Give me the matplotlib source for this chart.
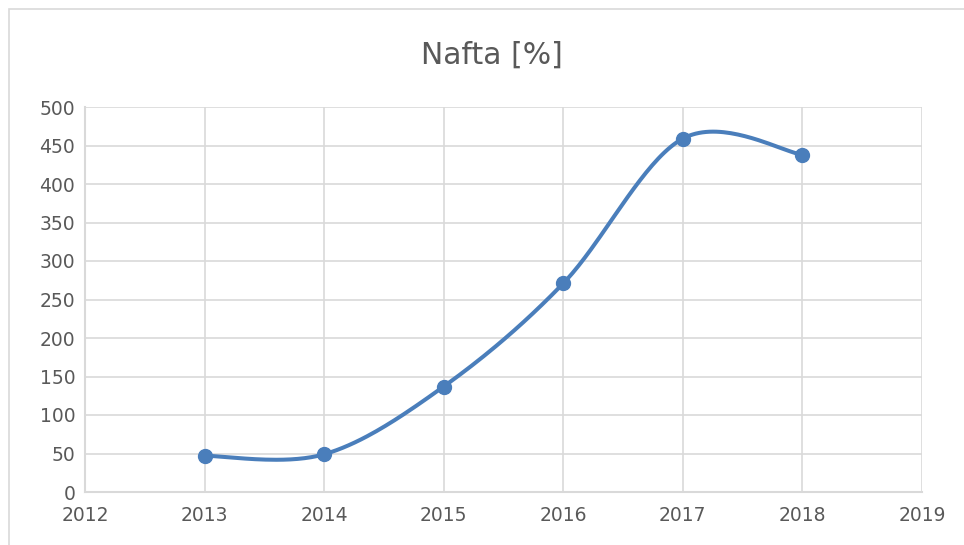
import numpy as np
import matplotlib.pyplot as plt
from matplotlib.patches import Rectangle

years = [2013, 2014, 2015, 2016, 2017, 2018]
values = [47, 49, 137, 271, 459, 438]
title = "Nafta [%]"

line_color = "#4a7ebb"
grid_color = "#d9d9d9"
text_color = "#595959"


def smooth_curve(xs, ys, sx, sy, steps=40):
    # Excel-like Bezier smoothing, done in scaled (screen-ish) coordinates
    px = np.asarray(xs, float) * sx
    py = np.asarray(ys, float) * sy
    pts = np.column_stack([px, py])
    n = len(pts)
    out = []
    for i in range(n - 1):
        p0 = pts[max(i - 1, 0)]
        p1 = pts[i]
        p2 = pts[i + 1]
        p3 = pts[min(i + 2, n - 1)]
        c1 = p1 + (p2 - p0) / 6.0
        c2 = p2 - (p3 - p1) / 6.0
        t = np.linspace(0, 1, steps)[:, None]
        seg = ((1 - t) ** 3) * p1 + 3 * ((1 - t) ** 2) * t * c1 + 3 * (1 - t) * t ** 2 * c2 + t ** 3 * p2
        out.append(seg if i == 0 else seg[1:])
    curve = np.vstack(out)
    return curve[:, 0] / sx, curve[:, 1] / sy


fig = plt.figure(figsize=(9.64, 5.45), dpi=100)
fig.patches.append(Rectangle((9 / 964, -0.01), 1.05, (545 - 9) / 545 + 0.01, transform=fig.transFigure,
                             fill=False, edgecolor=grid_color, linewidth=1.2))
ax = fig.add_axes([85 / 964, 53 / 545, 837 / 964, 385 / 545])

xmin, xmax, ymin, ymax = 2012, 2019, 0, 500
ax.set_xlim(xmin, xmax)
ax.set_ylim(ymin, ymax)
ax.set_xticks(range(2012, 2020))
ax.set_yticks(range(0, 501, 50))
ax.grid(True, color=grid_color, linewidth=1.2)
ax.set_axisbelow(True)
for side in ["top", "right"]:
    ax.spines[side].set_visible(False)
for side in ["left", "bottom"]:
    ax.spines[side].set_color(grid_color)
    ax.spines[side].set_linewidth(1.5)
ax.tick_params(length=0, labelsize=13.5, colors=text_color, pad=7)
ax.tick_params(axis="x", pad=10)

sx = 837 / (xmax - xmin)
sy = 385 / (ymax - ymin)
cx, cy = smooth_curve(years, values, sx, sy)
ax.plot(cx, cy, color=line_color, linewidth=2.9, solid_capstyle="round", clip_on=False)
ax.plot(years, values, "o", color=line_color, markersize=10, clip_on=False)

fig.text(492 / 964, 1 - 55 / 545, title, ha="center", va="center", fontsize=21.5, color=text_color)

fig.savefig("out.png", dpi=100)
